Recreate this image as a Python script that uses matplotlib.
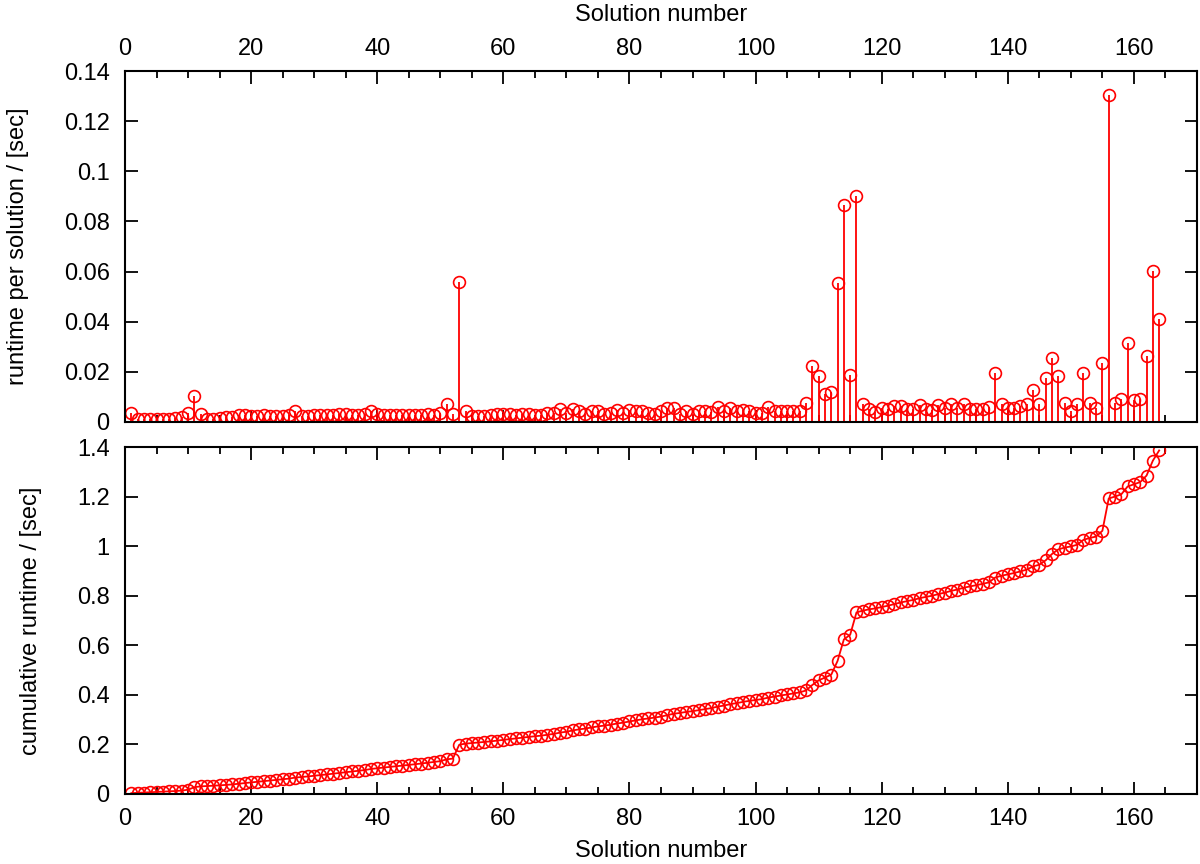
import matplotlib
matplotlib.use("Agg")
import matplotlib.pyplot as plt
import numpy as np
from matplotlib.ticker import MultipleLocator, FuncFormatter

plt.rcParams['font.family'] = ['Liberation Sans', 'DejaVu Sans']
plt.rcParams['font.size'] = 17

# runtime per solution in seconds, solutions 1..164
runtime = [
    0.0035, 0.0012, 0.0011, 0.0011, 0.0012, 0.0012, 0.0013, 0.0014, 0.0018, 0.0035,
    0.0102, 0.0033, 0.0012, 0.0013, 0.0015, 0.0018, 0.0020, 0.0028, 0.0028, 0.0025,
    0.0025, 0.0028, 0.0024, 0.0024, 0.0025, 0.0028, 0.0042, 0.0022, 0.0024, 0.0026,
    0.0027, 0.0028, 0.0029, 0.0030, 0.0030, 0.0029, 0.0028, 0.0030, 0.0043, 0.0031,
    0.0026, 0.0026, 0.0027, 0.0026, 0.0028, 0.0028, 0.0029, 0.0032, 0.0028, 0.0035,
    0.0072, 0.0033, 0.0557, 0.0045, 0.0022, 0.0022, 0.0022, 0.0026, 0.0030, 0.0030,
    0.0030, 0.0026, 0.0033, 0.0030, 0.0026, 0.0026, 0.0035, 0.0035, 0.0052, 0.0035,
    0.0052, 0.0044, 0.0033, 0.0044, 0.0044, 0.0030, 0.0035, 0.0049, 0.0035, 0.0049,
    0.0044, 0.0044, 0.0035, 0.0033, 0.0042, 0.0056, 0.0056, 0.0033, 0.0042, 0.0030,
    0.0042, 0.0042, 0.0040, 0.0061, 0.0042, 0.0056, 0.0042, 0.0049, 0.0042, 0.0035,
    0.0035, 0.0061, 0.0042, 0.0044, 0.0042, 0.0042, 0.0042, 0.0076, 0.0223, 0.0185,
    0.0112, 0.0119, 0.0553, 0.0867, 0.0189, 0.0901, 0.0072, 0.0052, 0.0040, 0.0055,
    0.0052, 0.0065, 0.0065, 0.0052, 0.0052, 0.0069, 0.0052, 0.0047, 0.0069, 0.0055,
    0.0072, 0.0055, 0.0072, 0.0052, 0.0052, 0.0052, 0.0059, 0.0197, 0.0072, 0.0055,
    0.0055, 0.0065, 0.0072, 0.0127, 0.0072, 0.0175, 0.0255, 0.0185, 0.0076, 0.0043,
    0.0072, 0.0197, 0.0076, 0.0055, 0.0235, 0.1303, 0.0076, 0.0092, 0.0315, 0.0087,
    0.0092, 0.0262, 0.0601, 0.0412,
]
solution = np.arange(1, len(runtime) + 1)
cumulative = np.cumsum(runtime)

red = '#ff0000'


def fmt(v, pos):
    return '%g' % round(v, 6)


fig = plt.figure(figsize=(12, 8.64), dpi=100)
ax1 = fig.add_axes([125 / 1200, 1 - 422 / 864, 1072 / 1200, 351 / 864])
ax2 = fig.add_axes([125 / 1200, 1 - 794 / 864, 1072 / 1200, 347 / 864])

# top: impulses with circles
ax1.vlines(solution, 0, runtime, color=red, lw=1.3)
ax1.plot(solution, runtime, 'o', ms=8.5, mfc='none', mec=red, mew=1.2)
ax1.set_xlim(0, 170)
ax1.set_ylim(0, 0.14)
ax1.yaxis.set_major_locator(MultipleLocator(0.02))
ax1.set_ylabel('runtime per solution / [sec]', labelpad=25)
ax1.xaxis.set_label_position('top')
ax1.set_xlabel('Solution number', labelpad=12)
ax1.tick_params(axis='x', which='both', top=True, bottom=True,
                labeltop=True, labelbottom=False)

# bottom: cumulative runtime
ax2.plot(solution, cumulative, '-o', color=red, lw=1.3, ms=8.5,
         mfc='none', mec=red, mew=1.2)
ax2.set_xlim(0, 170)
ax2.set_ylim(0, 1.4)
ax2.yaxis.set_major_locator(MultipleLocator(0.2))
ax2.set_ylabel('cumulative runtime / [sec]', labelpad=25)
ax2.set_xlabel('Solution number', labelpad=7)
ax2.tick_params(axis='x', which='both', top=True, bottom=True)

for ax in (ax1, ax2):
    ax.xaxis.set_major_locator(MultipleLocator(20))
    ax.xaxis.set_minor_locator(MultipleLocator(5))
    ax.yaxis.set_major_formatter(FuncFormatter(fmt))
    ax.tick_params(which='both', direction='in', left=True, right=True,
                   width=1.3, labelsize=17)
    ax.tick_params(axis='y', pad=11)
    ax.tick_params(which='major', length=9)
    ax.tick_params(which='minor', length=5)
    for s in ax.spines.values():
        s.set_linewidth(1.5)

ax1.tick_params(axis='x', pad=8)
ax2.tick_params(axis='x', pad=10)

fig.savefig('out.png', dpi=100)
